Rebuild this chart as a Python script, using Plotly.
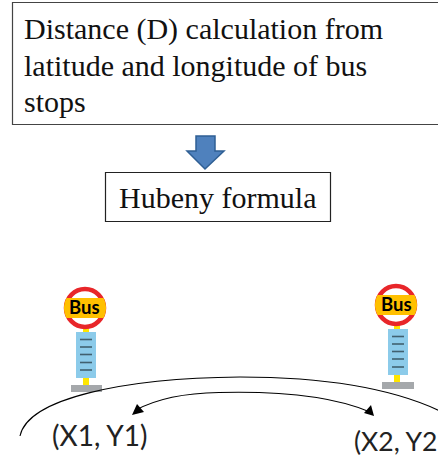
import numpy as np
import plotly.graph_objects as go

# Canvas in pixels, same as the reference
W = 438
H = 458

# Texts
top_lines = ["Distance (D) calculation from", "latitude and longitude of bus", "stops"]
top_line_y = [29, 65, 101]
formula_text = "Hubeny formula"
left_label = "(X1, Y1)"
right_label = "(X2, Y2"

# Bus stops: sign centre, post box, stem, base
left_stop = dict(cx=85, cy=308, band=(298, 318), post=(76, 96, 332, 378),
                 ticks=[339.5, 347, 354.5, 362.5, 370], stem=(83, 89, 328, 385), base=(71, 102, 385, 392))
right_stop = dict(cx=396, cy=305, band=(295, 315), post=(388, 408, 329, 375),
                  ticks=[336.5, 344, 351.5, 359, 367], stem=(394, 400, 325, 382), base=(382, 414, 382, 389))

# Arcs
outer_arc = "M20,436 C28,398 125,378 240,377 C315,377 385,385 440,411"
inner_arc = "M136,410 C160,397 190,393 219,392.5 C280,391 335,397 370,412"
left_head = "M132,415 L137,404 L144,412 Z"
right_head = "M374,416 L371,405 L364,413 Z"
block_arrow = "M196,136 L215,136 L215,151 L224,151 L205,169 L187,151 L196,151 Z"

RED = "#e8262a"
ORANGE = "#ffc000"
BLUE = "#8ccbea"
TICK = "#41606f"
YELLOW = "#ffe600"
GREY = "#a5a8ab"


def rect(x0, x1, y0, y1, fill, line="rgba(0,0,0,0)", width=0, **kw):
    return dict(type="rect", x0=x0, x1=x1, y0=y0, y1=y1, fillcolor=fill,
                line=dict(color=line, width=width), **kw)


def band_path(cx, cy, r, y0, y1):
    # band across the sign, cut off by the circle
    a0 = np.arcsin((y0 - cy) / r)
    a1 = np.arcsin((y1 - cy) / r)
    t = np.linspace(a0, a1, 16)
    right = [(cx + r * np.cos(a), cy + r * np.sin(a)) for a in t]
    left = [(cx - r * np.cos(a), cy + r * np.sin(a)) for a in t[::-1]]
    pts = right + left
    return "M" + " L".join(f"{x:.1f},{y:.1f}" for x, y in pts) + " Z"


def stop_shapes(s):
    cx, cy = s["cx"], s["cy"]
    out = [
        rect(s["stem"][0], s["stem"][1], s["stem"][2], s["stem"][3], YELLOW),
        rect(s["base"][0], s["base"][1], s["base"][2], s["base"][3], GREY),
        rect(s["post"][0], s["post"][1], s["post"][2], s["post"][3], BLUE),
        dict(type="circle", x0=cx - 19, x1=cx + 19, y0=cy - 19, y1=cy + 19, fillcolor="white",
             line=dict(color=RED, width=4.5)),
        dict(type="path", path=band_path(cx, cy, 21, s["band"][0], s["band"][1]), fillcolor=ORANGE,
             line=dict(width=0)),
    ]
    for y in s["ticks"]:
        out.append(dict(type="line", x0=s["post"][0] + 4, x1=s["post"][1] - 4, y0=y, y1=y,
                        line=dict(color=TICK, width=1.6)))
    return out


shapes = [
    rect(12.5, 445, 2.5, 124.5, "white", "#444444", 1.2),
    dict(type="path", path=block_arrow, fillcolor="#4f81bd", line=dict(color="#2f5f94", width=1.5)),
    rect(105.5, 330.5, 172.5, 221.5, "white", "#222222", 1.2),
]
shapes += stop_shapes(left_stop) + stop_shapes(right_stop)
shapes += [
    dict(type="path", path=outer_arc, line=dict(color="black", width=1.1)),
    dict(type="path", path=inner_arc, line=dict(color="black", width=1.1)),
    dict(type="path", path=left_head, fillcolor="black", line=dict(width=0)),
    dict(type="path", path=right_head, fillcolor="black", line=dict(width=0)),
]

SERIF = dict(family="Liberation Serif", size=30, color="#111111")
SANS = dict(family="Lato", size=28, color="#222222")
SANS_RIGHT = dict(family="Lato", size=26.5, color="#222222")
BUS = dict(family="Lato", size=18.5, color="black", weight="bold")

annotations = []
for line, y in zip(top_lines, top_line_y):
    annotations.append(dict(x=24, y=y, text=line, xanchor="left", font=SERIF))
annotations += [
    dict(x=217, y=197, text=formula_text, xanchor="center", font=SERIF),
    dict(x=52, y=435, text=left_label, xanchor="left", font=SANS),
    dict(x=354, y=441, text=right_label, xanchor="left", font=SANS_RIGHT),
    dict(x=left_stop["cx"] - 1, y=307, text="Bus", xanchor="center", font=BUS),
    dict(x=right_stop["cx"], y=304, text="Bus", xanchor="center", font=BUS),
]
for a in annotations:
    a.update(xref="x", yref="y", yanchor="middle", showarrow=False, borderpad=0, borderwidth=0)

fig = go.Figure()
fig.update_layout(
    width=W, height=H, margin=dict(l=0, r=0, t=0, b=0, pad=0),
    paper_bgcolor="white", plot_bgcolor="white", showlegend=False,
    xaxis=dict(range=[0, W], visible=False, fixedrange=True),
    yaxis=dict(range=[H, 0], visible=False, fixedrange=True),
    shapes=shapes, annotations=annotations,
)
fig.write_html("out.html", config=dict(displayModeBar=False),
               post_script="document.body.style.margin='0';document.body.style.overflow='hidden';")
